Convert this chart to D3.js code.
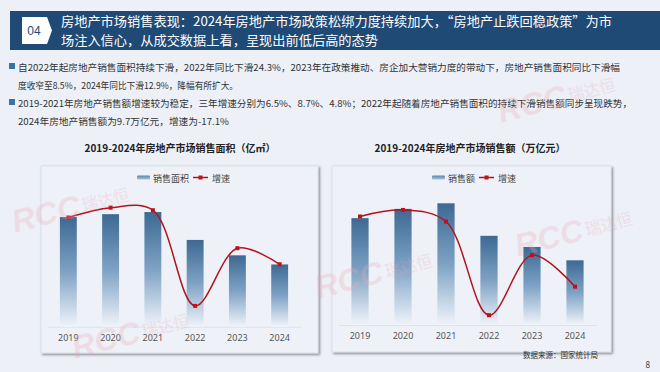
<!DOCTYPE html>
<html><head><meta charset="utf-8">
<script src="https://cdn.jsdelivr.net/npm/d3@7/dist/d3.min.js"></script>
<style>
html,body{margin:0;padding:0;background:#edf1f7;}
svg{display:block;font-family:"Noto Sans CJK SC","Noto Sans",sans-serif;}
</style></head>
<body>
<svg id="c" width="660" height="372"></svg>
<script>
// ---------- data ----------
const years = ["2019","2020","2021","2022","2023","2024"];
const areaValues = [17.16, 17.61, 17.94, 13.58, 11.17, 9.74];   // 亿㎡
const areaGrowth = [-0.1, 2.6, 1.9, -24.3, -8.5, -12.9];         // %
const salesValues = [15.97, 17.36, 18.19, 13.33, 11.66, 9.67];   // 万亿元
const salesGrowth = [6.5, 8.7, 4.8, -26.7, -6.5, -17.1];         // %

const headerNo = "04";
const titleLines = [
  "房地产市场销售表现：2024年房地产市场政策松绑力度持续加大，“房地产止跌回稳政策”为市",
  "场注入信心，从成交数据上看，呈现出前低后高的态势"
];
const bulletLines = [
  "自2022年起房地产销售面积持续下滑，2022年同比下滑24.3%，2023年在政策推动、房企加大营销力度的带动下，房地产销售面积同比下滑幅",
  "度收窄至8.5%，2024年同比下滑12.9%，降幅有所扩大。",
  "2019-2021年房地产销售额增速较为稳定，三年增速分别为6.5%、8.7%、4.8%；2022年起随着房地产销售面积的持续下滑销售额同步呈现跌势，",
  "2024年房地产销售额为9.7万亿元，增速为-17.1%"
];
const chartTitles = ["2019-2024年房地产市场销售面积（亿㎡）", "2019-2024年房地产市场销售额（万亿元）"];
const barLegends = ["销售面积", "销售额"];
const lineLegend = "增速";
const sourceText = "数据来源：国家统计局";
const pageNo = "8";
const watermarkLatin = "RCC";
const watermarkCJK = "瑞达恒";

const svg = d3.select("#c");
const defs = svg.append("defs");

// background
svg.append("rect").attr("width",660).attr("height",372).attr("fill","#edf1f7");

// header band
svg.append("rect").attr("x",10).attr("y",11).attr("width",650).attr("height",39).attr("fill","#1f4a76");
svg.append("path").attr("d","M22,17 H47 L52,30.5 L47,44 H22 Z").attr("fill","#ffffff");
svg.append("text").attr("x",34).attr("y",35).attr("text-anchor","middle").attr("fill","#1f4a76")
  .attr("font-size",12).attr("font-family","Liberation Sans, Arial").text(headerNo);
const tEnds = [612, 378];
titleLines.forEach((t,i)=>{
  svg.append("text").attr("x",61).attr("y",25.5+i*19).attr("fill","#ffffff").attr("font-size",13)
    .attr("textLength",tEnds[i]-61).attr("lengthAdjust","spacingAndGlyphs").text(t);
});

// bullets
const bEnds = [620, 238, 632, 229];
bulletLines.forEach((t,i)=>{
  const y = 67 + i*18;
  if (i===0 || i===2) svg.append("rect").attr("x",9).attr("y",y-4).attr("width",6).attr("height",6).attr("fill","#3a73a8");
  svg.append("text").attr("x",18).attr("y",y+3.5).attr("fill","#333").attr("font-size",9.5)
    .attr("textLength",bEnds[i]-18).attr("lengthAdjust","spacingAndGlyphs").text(t);
});

// gradients
const grad = defs.append("linearGradient").attr("id","barGrad").attr("x1",0).attr("y1",0).attr("x2",0).attr("y2",1);
grad.append("stop").attr("offset","0%").attr("stop-color","#3d6993");
grad.append("stop").attr("offset","50%").attr("stop-color","#7ea2c5");
grad.append("stop").attr("offset","100%").attr("stop-color","#f0f4fa");
const lgGrad = defs.append("linearGradient").attr("id","legGrad").attr("x1",0).attr("y1",0).attr("x2",0).attr("y2",1);
lgGrad.append("stop").attr("offset","0%").attr("stop-color","#5a84ad");
lgGrad.append("stop").attr("offset","100%").attr("stop-color","#a9c2da");
const sh = defs.append("filter").attr("id","shadow").attr("x","-5%").attr("y","-5%").attr("width","110%").attr("height","115%");
sh.append("feDropShadow").attr("dx",1.5).attr("dy",1.5).attr("stdDeviation",0.8).attr("flood-color","#000").attr("flood-opacity",0.45);

function drawChart(cfg){
  const g = svg.append("g");
  // panel
  g.append("rect").attr("x",cfg.px).attr("y",cfg.py).attr("width",cfg.pw).attr("height",cfg.ph)
    .attr("fill","#eef2f8").attr("stroke","#d6dce5").attr("stroke-width",0.8).attr("filter","url(#shadow)");
  // title
  g.append("text").attr("x",cfg.titleX).attr("y",152).attr("text-anchor","middle").attr("font-size",10)
    .attr("font-weight","bold").attr("fill","#222").text(cfg.title);
  // legend
  const lg = g.append("g").attr("transform",`translate(${cfg.legX},178)`);
  lg.append("rect").attr("x",0).attr("y",-2.5).attr("width",13).attr("height",4).attr("rx",1).attr("fill","url(#legGrad)");
  const lt = lg.append("text").attr("x",16).attr("y",3.5).attr("font-size",9).attr("fill","#444").text(cfg.barLegend);
  const w = lt.node().getComputedTextLength();
  const lx = 16 + w + 4;
  lg.append("line").attr("x1",lx).attr("x2",lx+15).attr("y1",-0.5).attr("y2",-0.5).attr("stroke","#b3121c").attr("stroke-width",1.5);
  lg.append("rect").attr("x",lx+5.5).attr("y",-2.5).attr("width",4).attr("height",4).attr("fill","#c0111b");
  lg.append("text").attr("x",lx+19).attr("y",3.5).attr("font-size",9).attr("fill","#444").text(lineLegend);

  const x = d3.scaleBand().domain(years).range(cfg.xRange).paddingInner(0.6).paddingOuter(0.3);
  const y = d3.scaleLinear().domain([0,20]).range([cfg.base, cfg.top]);
  const y2 = d3.scaleLinear().domain(cfg.y2Domain).range([cfg.base, cfg.top]);

  // baseline axis
  const ax = g.append("g").attr("transform",`translate(0,${cfg.base})`)
    .call(d3.axisBottom(x).tickSize(0).tickPadding(8));
  ax.select(".domain").attr("stroke","#dfe4ea").attr("stroke-width",1);
  ax.selectAll("text").attr("font-size",9).attr("fill","#555").attr("font-family","Noto Sans, sans-serif");

  g.selectAll(".bar").data(cfg.values).join("rect")
    .attr("x",(d,i)=>x(years[i])).attr("width",x.bandwidth())
    .attr("y",d=>y(d)).attr("height",d=>cfg.base-y(d)).attr("fill","url(#barGrad)");

  const pts = cfg.growth.map((d,i)=>[x(years[i])+x.bandwidth()/2, y2(d)]);
  g.append("path").attr("d", d3.line().curve(d3.curveCatmullRom.alpha(0.5))(pts))
    .attr("fill","none").attr("stroke","#b3121c").attr("stroke-width",1.5);
  g.selectAll(".pt").data(pts).join("rect")
    .attr("x",d=>d[0]-2).attr("y",d=>d[1]-2).attr("width",4).attr("height",4).attr("fill","#c0111b");
}

drawChart({px:41,py:166,pw:277,ph:187,titleX:180,title:chartTitles[0],legX:137,barLegend:barLegends[0],
  xRange:[47.2,300.8],base:326.7,top:198.9,y2Domain:[-30,5],values:areaValues,growth:areaGrowth});
drawChart({px:332,py:166,pw:279,ph:186,titleX:470,title:chartTitles[1],legX:432,barLegend:barLegends[1],
  xRange:[338.5,596.5],base:325,top:191.2,y2Domain:[-30,15],values:salesValues,growth:salesGrowth});

// source & page
svg.append("text").attr("x",598).attr("y",358).attr("text-anchor","end").attr("font-size",7.5).attr("fill","#333").text(sourceText);
svg.append("text").attr("x",650).attr("y",368).attr("text-anchor","end").attr("font-size",8).attr("fill","#444")
  .attr("font-family","Noto Sans, sans-serif").text(pageNo);

// watermarks (overlay)
const wm = svg.append("g").attr("fill","#e9a9b4").attr("opacity",0.3).style("pointer-events","none");
[[42,226],[545,250],[102,352],[528,116],[345,292]].forEach(([x,y])=>{
  const g = wm.append("g").attr("transform",`translate(${x},${y}) rotate(-14)`);
  g.append("text").attr("x",-28).attr("y",0).attr("font-family","Liberation Sans, Arial")
    .attr("font-weight","bold").attr("font-style","italic").attr("font-size",32).text(watermarkLatin);
  g.append("text").attr("x",44).attr("y",-4).attr("font-size",16).text(watermarkCJK);
});
</script>
</body></html>
